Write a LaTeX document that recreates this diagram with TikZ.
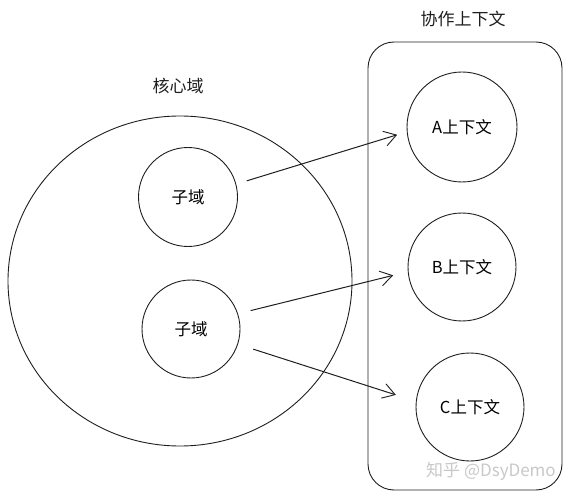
\documentclass[tikz,border=0pt]{standalone}
\usepackage{fontspec}
\setmainfont{Noto Sans CJK SC}
\usetikzlibrary{arrows.meta,shapes.geometric}
\definecolor{ink}{HTML}{1E1E1E}
\definecolor{wm}{HTML}{C8C8C8}
\begin{document}
\begin{tikzpicture}[x=1pt,y=-1pt,
  sketch/.style={draw=ink,line width=0.9pt},
  ring/.style={sketch,circle,inner sep=0pt,font=\fontsize{16.5}{19}\selectfont},
  lbl/.style={font=\fontsize{17}{20}\selectfont,text=ink},
  link/.style={draw=ink,line width=1pt,-{Straight Barb[length=12pt,width=15pt,line width=0.9pt]}}]
\useasboundingbox (0,0) rectangle (571,500);
% core domain
\node[sketch,ellipse,minimum width=344pt,minimum height=330pt,inner sep=0pt] (core) at (180,281) {};
\node[lbl] (coreL) at (178,86) {核心域};
\node[ring,minimum size=99pt] (s1) at (188,197) {子域};
\node[ring,minimum size=98pt] (s2) at (191,329) {子域};
% collaboration contexts
\node[sketch,rounded corners=26pt,minimum width=194pt,minimum height=448pt,inner sep=0pt] (collab) at (465,266) {};
\node[lbl] (collabL) at (463,19) {协作上下文};
\node[ring,minimum size=110pt] (A) at (462,127) {A上下文};
\node[ring,minimum size=108pt] (B) at (462,267) {B上下文};
\node[ring,minimum size=108pt] (C) at (470,407) {C上下文};
% links
\draw[link,shorten <=11pt,shorten >=10pt] (s1.15) -- (A.185);
\draw[link,shorten <=13pt,shorten >=15pt] (s2.18) -- (B.185);
\draw[link,shorten <=16pt,shorten >=21pt] (s2.-18) -- (C.174);
% watermark
\node[text=wm,font=\fontsize{17}{19}\selectfont] (wmark) at (491,471) {知乎 @DsyDemo};
\end{tikzpicture}
\end{document}
